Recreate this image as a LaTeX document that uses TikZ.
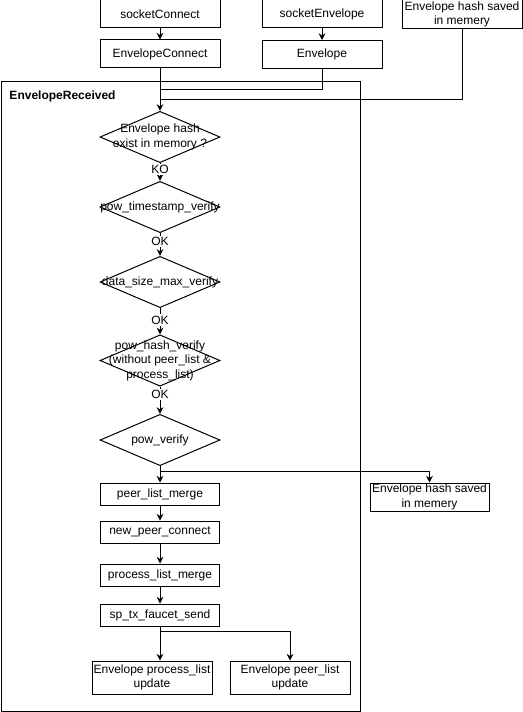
\documentclass[tikz,border=0pt]{standalone}
\usepackage{fontspec}
\setmainfont{Liberation Sans}
\usetikzlibrary{shapes.geometric,arrows.meta}

\begin{document}
\begin{tikzpicture}[x=0.75pt,y=-0.75pt,line width=0.75pt,
    font=\fontsize{9}{10.8}\selectfont]
    \tikzset{%
      box/.style={draw, rectangle, inner sep=0pt, align=center,
        minimum width=90pt, minimum height=21pt},
      sbox/.style={box, minimum width=89.25pt, minimum height=16.5pt},
      dia/.style={draw, diamond, inner sep=0pt, minimum
        width=90pt, minimum height=38.5pt},
      lbl/.style={align=center, inner sep=0pt},
      elbl/.style={fill=white, inner sep=1pt},
      arr/.style={-{Stealth[length=5pt,width=5pt]}},
    }
    \useasboundingbox (0,0) rectangle (523,712);
    % inputs
    \node[box] (SC) at (160,14) {socketConnect};
    \node[box] (EC) at (160,54) {EnvelopeConnect};
    \node[box] (SE) at (322,14) {socketEnvelope};
    \node[box] (EN) at (322,54.5) {Envelope};
    \node[box, minimum height=21.75pt] (HS) at (462,14.5) {Envelope hash saved\\in memery};
    \draw [arr] (SC) -- (EC);
    \draw [arr] (SE) -- (EN);
%
    \node[draw, rectangle, inner sep=0pt, anchor=north west, minimum
      width=269.25pt, minimum height=472.5pt] (R) at (0.5,81) {};
    \node[anchor=west, inner sep=0pt, font=\fontsize{9}{10.8}\selectfont\bfseries] (RL) at (9,96) {EnvelopeReceived};
    % checks
    \node[dia] (D1) at (160,137) {};
    \node[lbl] at (D1) {Envelope hash\\exist in memory ?};
    \node[dia] (D2) at (160,207) {};
    \node[lbl] at (D2) {pow\_timestamp\_verify};
    \node[dia] (D3) at (160,282) {};
    \node[lbl] at (D3) {data\_size\_max\_verify};
    \node[dia] (D4) at (160,360.5) {};
    \node[lbl] at (D4) {pow\_hash\_verify\\(without peer\_list \&\\process\_list)};
    \node[dia] (D5) at (160,440) {};
    \node[lbl] at (D5) {pow\_verify};

    \coordinate (J1) at (160,90);
    \coordinate (J2) at (160,100);
    \draw [arr] (EC) -- (D1);
    \draw (EN) |- (J1);
    \draw (HS) |- (J2);

    \draw [arr] (D1) -- node[elbl, pos=0.35] {KO} (D2);
    \draw [arr] (D2) -- node[elbl, pos=0.35] {OK} (D3);
    \draw [arr] (D3) -- node[elbl, pos=0.45] {OK} (D4);
    \draw [arr] (D4) -- node[elbl, pos=0.3] {OK} (D5);
    % actions
    \node[sbox] (PL) at (160,494) {peer\_list\_merge};
    \node[sbox] (NP) at (160,532) {new\_peer\_connect};
    \node[sbox] (PM) at (160,575) {process\_list\_merge};
    \node[sbox] (TX) at (160,615) {sp\_tx\_faucet\_send};
    \node[box, minimum width=89.25pt] (HM) at (429.5,497) {Envelope hash saved\\in memery};
    \node[box, minimum height=24.75pt] (UP) at (152,677.5) {Envelope process\_list\\update};
    \node[box, minimum height=24.75pt] (UL) at (290,677.5) {Envelope peer\_list\\update};

    \coordinate (S1) at (160,471);
    \coordinate (S2) at (160,631);
    \draw [arr] (D5) -- (PL);
    \draw [arr] (S1) -| (HM);
    \draw [arr] (PL) -- (NP);
    \draw [arr] (NP) -- (PM);
    \draw [arr] (PM) -- (TX);
    \draw [arr] (TX) -- (TX |- UP.north);
    \draw [arr] (S2) -| (UL);
\end{tikzpicture}
\end{document}
